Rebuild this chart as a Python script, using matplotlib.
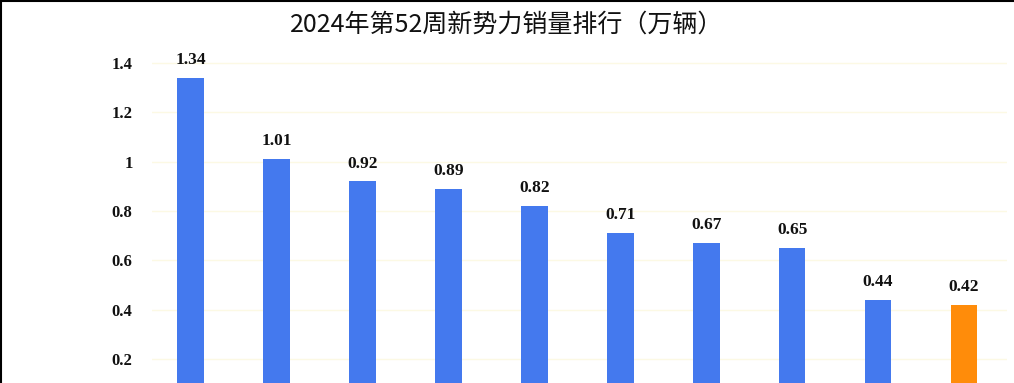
import matplotlib
matplotlib.use("Agg")
import matplotlib.pyplot as plt
from matplotlib.lines import Line2D

# weekly sales, 10k vehicles, ranked (category names are cut off in the source)
ranks = list(range(1, 11))
sales = [1.34, 1.01, 0.92, 0.89, 0.82, 0.71, 0.67, 0.65, 0.44, 0.42]
bar_colors = ["#4479ee"] * 9 + ["#ff8c0a"]
yticks = [0.2, 0.4, 0.6, 0.8, 1.0, 1.2, 1.4]
ytick_labels = ["0.2", "0.4", "0.6", "0.8", "1", "1.2", "1.4"]
title = "2024年第52周新势力销量排行（万辆）"

plt.rcParams["font.family"] = ["Noto Sans CJK SC", "DejaVu Sans"]

fig = plt.figure(figsize=(10.14, 3.83), dpi=100)
ax = fig.add_axes([152 / 1014, 0, (1007 - 152) / 1014, 1])

x = [r - 1 for r in ranks]
bars = ax.bar(x, sales, width=0.31, color=bar_colors, zorder=3)

for xi, v in zip(x, sales):
    ax.annotate(f"{v:.2f}", (xi, v), xytext=(0, 7), textcoords="offset points",
                ha="center", va="bottom", fontsize=12.5, fontweight="bold",
                family="Liberation Serif", color="#111111")

ax.set_xlim(-0.45, 9.5)
ax.set_ylim(0.103, 1.655)
ax.set_yticks(yticks)
ax.set_yticklabels(ytick_labels, family="Liberation Serif", fontweight="bold",
                   fontsize=12, color="#111111")
ax.tick_params(axis="y", length=0, pad=14)
ax.set_xticks([])
ax.grid(axis="y", color="#fcf9e4", linewidth=1, zorder=0)
for s in ax.spines.values():
    s.set_visible(False)

fig.text(0.5, 1 - 25 / 383, title, ha="center", va="center", fontsize=18,
         color="#111111")

# thin dark frame at top and left edge
fig.add_artist(Line2D([0, 1], [0.998, 0.998], color="black", linewidth=1.5,
                      transform=fig.transFigure))
fig.add_artist(Line2D([0.001, 0.001], [0, 1], color="black", linewidth=1.5,
                      transform=fig.transFigure))

fig.savefig("out.png", dpi=100)
